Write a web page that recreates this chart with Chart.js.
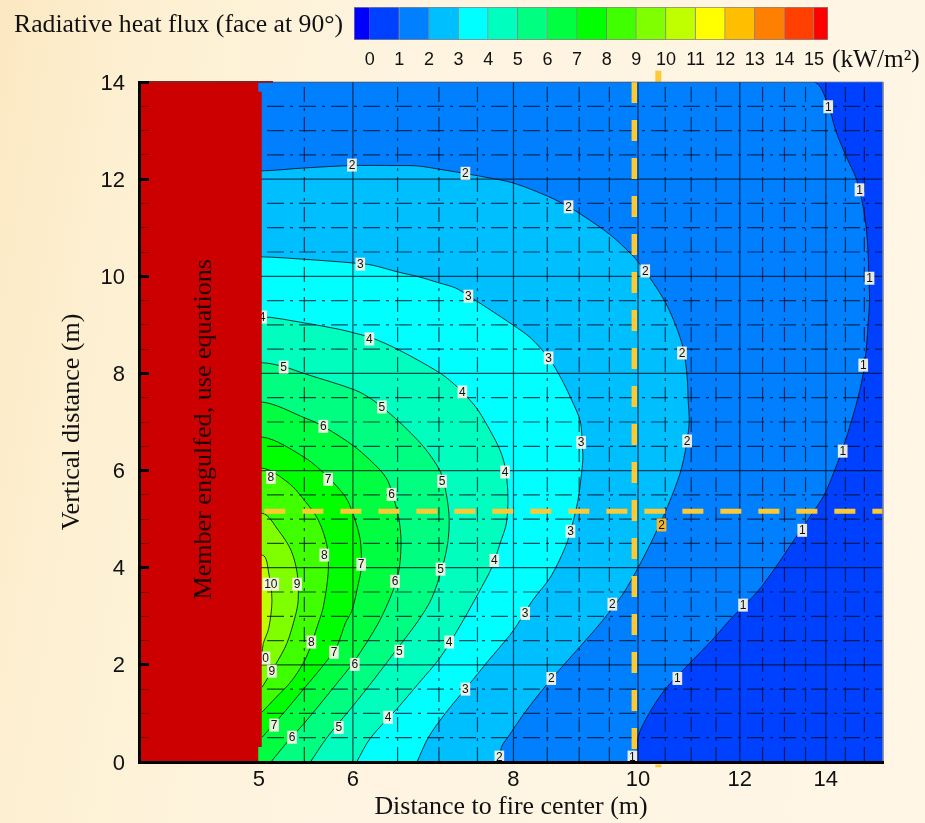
<!DOCTYPE html>
<html>
<head>
<meta charset="utf-8">
<script src="https://cdn.jsdelivr.net/npm/chart.js@4"></script>
<style>
html,body{margin:0;padding:0;width:925px;height:823px;overflow:hidden;background:linear-gradient(100deg,#fce8c2 0%,#fdf0d2 14%,#fef4e0 40%,#fff6e6 100%);}
canvas{position:absolute;left:0;top:0;}
.t{position:absolute;font-family:"Liberation Serif",serif;color:#111;white-space:nowrap;}
</style>
</head>
<body>
<canvas id="main" width="925" height="823"></canvas>
<canvas id="bar" width="925" height="75"></canvas>
<div class="t" style="left:14px;top:9px;font-size:25.7px;">Radiative heat flux (face at 90°)</div>
<div class="t" style="left:832px;top:44px;font-size:25.3px;">(kW/m²)</div>
<script>
const titleX = "Distance to fire center (m)";
const titleY = "Vertical distance (m)";
const noteText = "Member engulfed, use equations";
const xMin = 4.09, xMax = 15.51, yMin = 0, yMax = 14;
const xTickValues = [5.07, 6, 8, 10, 12, 14];
const xMajor = [6, 8, 10, 12, 14];
const xMinor = [5.5, 6.5, 7, 7.5, 8.5, 9, 9.5, 10.5, 11, 11.5, 12.5, 13, 13.5, 14.5, 15];
const yTickValues = [0,0.5,1,1.5,2,2.5,3,3.5,4,4.5,5,5.5,6,6.5,7,7.5,8,8.5,9,9.5,10,10.5,11,11.5,12,12.5,13,13.5,14];

const bandColors = ["#0000ff","#0040ff","#0080ff","#00bfff","#00ffff","#00ffbf","#00ff80","#00ff40","#00ff00","#40ff00","#80ff00","#bfff00","#ffff00","#ffbf00","#ff8000","#ff4000","#ff0000"];
const barEdges = [-0.53,0,1,2,3,4,5,6,7,8,9,10,11,12,13,14,15,15.47];

const contour1 = [[9.99,0],[10,0.51],[10.2,1],[10.5,1.5],[10.94,2],[11.41,2.5],[11.86,3],[12.38,3.5],[12.79,4],[13.17,4.5],[13.57,5],[13.96,5.5],[14.22,6],[14.45,6.5],[14.65,7],[14.83,7.5],[14.97,8],[15.05,8.5],[15.1,9],[15.14,9.5],[15.12,10],[15.1,10.5],[15.05,11],[14.95,11.5],[14.79,12],[14.5,12.5],[14.25,13],[14.04,13.57],[13.69,14]];
const contour2 = [[7.81,0],[7.83,0.31],[7.92,0.51],[8.17,1.03],[8.52,1.64],[8.96,2.3],[9.35,2.86],[9.74,3.47],[10,4],[10.22,4.48],[10.46,5.05],[10.63,5.49],[10.79,5.97],[10.9,6.49],[10.96,7],[10.94,7.45],[10.92,7.93],[10.85,8.48],[10.72,8.93],[10.5,9.47],[10.22,9.96],[10,10.3],[9.91,10.42],[9.52,10.85],[9,11.3],[8.83,11.43],[8.52,11.64],[8,11.92],[7.61,12.04],[7.21,12.15],[7.02,12.2],[6.75,12.27],[6.5,12.28],[5.99,12.28],[5.5,12.23],[5.09,12.17]];
const contour3 = [[6.73,0],[6.87,0.51],[7.08,1],[7.38,1.58],[7.65,2.09],[7.77,2.3],[8,2.71],[8.28,3.33],[8.55,3.81],[8.78,4.43],[8.88,4.84],[8.98,5.39],[9.04,5.97],[9.06,6.28],[9.05,6.49],[9.02,7],[8.88,7.45],[8.7,7.93],[8.52,8.32],[8.25,8.73],[8,8.99],[7.51,9.47],[7.38,9.6],[7.21,9.76],[6.99,9.87],[6.75,9.99],[6.5,10.09],[6.21,10.23],[6.03,10.27],[5.5,10.35],[5.09,10.4]];
const contour4 = [[6.04,0],[6.19,0.49],[6.5,1.11],[6.75,1.62],[7.02,2.16],[7.29,2.86],[7.51,3.47],[7.7,4.02],[7.81,4.5],[7.9,4.92],[7.92,5.53],[7.88,6.08],[7.81,6.42],[7.67,6.83],[7.51,7.24],[7.4,7.45],[7.25,7.7],[7.02,8],[6.52,8.48],[6.21,8.73],[6.02,8.83],[5.85,8.91],[5.5,9.04],[5.09,9.17]];
const contour5 = [[5.56,0],[5.73,0.51],[5.99,1.13],[6.21,1.65],[6.5,2.34],[6.75,2.92],[6.91,3.37],[7.04,3.99],[7.11,4.5],[7.13,4.98],[7.1,5.45],[7.02,5.97],[6.81,6.49],[6.52,7],[6.22,7.45],[6.02,7.66],[5.51,7.99],[5.3,8.14],[5.1,8.22]];
const contour6 = [[5.18,0],[5.35,0.45],[5.5,0.8],[5.79,1.52],[6.02,2.09],[6.28,2.86],[6.45,3.54],[6.52,3.99],[6.54,4.57],[6.51,5.05],[6.4,5.74],[6.3,6.01],[6.02,6.49],[5.69,6.91],[5.51,7.08],[5.1,7.41]];
const contour7 = [[5.1,0.51],[5.28,0.96],[5.5,1.52],[5.69,1.99],[5.83,2.38],[5.92,2.86],[5.99,3.12],[6.06,3.68],[6.09,3.99],[6.08,4.57],[6,5.12],[5.92,5.46],[5.73,5.88],[5.51,6.26],[5.1,6.69]];
const contour8 = [[5.1,1.03],[5.22,1.31],[5.38,1.68],[5.52,2.16],[5.64,2.86],[5.69,3.19],[5.74,3.89],[5.73,4.43],[5.64,4.98],[5.5,5.39],[5.35,5.74],[5.1,6.05]];
const contour9 = [[5.1,1.54],[5.22,1.99],[5.33,2.44],[5.41,2.99],[5.44,3.33],[5.43,3.89],[5.37,4.36],[5.25,4.77],[5.1,5.12]];
const contour10 = [[5.1,2.24],[5.11,2.44],[5.16,2.75],[5.19,3.33],[5.16,3.89],[5.1,4.26]];
const contours = [contour1,contour2,contour3,contour4,contour5,contour6,contour7,contour8,contour9,contour10];

const labels1 = [[14.06,13.49],[14.87,11.78],[15.14,9.96],[14.97,8.17],[14.43,6.4],[13.42,4.77],[12.07,3.23],[10.73,1.72],[9.9,0.1]];
const labels2 = [[5.99,12.29],[7.34,12.12],[8.83,11.43],[10.13,10.11],[10.82,8.42],[10.92,6.61],[9.55,3.25],[8.56,1.72],[7.8,0.1]];
const labels2Orange = [[10.43,4.88]];
const labels3 = [[6.08,10.25],[7.38,9.59],[8.52,8.32],[9.03,6.58],[8.86,4.75],[8.17,3.06],[7.34,1.5]];
const labels4 = [[5.1,9.16],[6.18,8.71],[7.3,7.62],[7.88,5.97],[7.73,4.15],[7.13,2.47],[6.39,0.92]];
const labels5 = [[5.3,8.13],[6.32,7.31],[7.04,5.78],[7.02,3.97],[6.52,2.28],[5.85,0.71]];
const labels6 = [[5.69,6.91],[6.43,5.51],[6.47,3.72],[6.02,2.01],[5.38,0.51]];
const labels7 = [[5.74,5.82],[6.09,4.07],[5.8,2.26],[5.21,0.76]];
const labels8 = [[5.18,5.86],[5.7,4.26],[5.57,2.47]];
const labels9 = [[5.43,3.66],[5.19,1.87]];
const labels10 = [[5.18,3.66],[5.1,2.14]];
const contourLabels = [labels1,labels2,labels3,labels4,labels5,labels6,labels7,labels8,labels9,labels10];

const redBlock = [[5.064,0],[5.064,0.31],[5.096,0.31],[5.096,13.8],[5.064,13.8],[5.064,14]];
const dashV = [[9.934,14],[9.934,0]];
const dashH = [[5.12,5.164],[15.51,5.164]];
const stubs = [[10.37,14.23],[10.37,14],[null,null],[10.37,-0.05],[10.37,-0.11]];
const notePos = {x:4.6, y:6.85};

const pts = a => a.map(p => ({x:p[0], y:p[1]}));
const closeLeft = a => a.concat([[xMin,a[a.length-1][1]],[xMin,a[0][1]]]);
const gridV = list => list.flatMap(v => [[v,yMin],[v,yMax],[null,null]]);
const gridH = list => list.flatMap(v => [[xMin,v],[xMax,v],[null,null]]);
const yMajor = yTickValues.filter(v => v % 2 === 0 && v > 0 && v < 14);
const yMinor = yTickValues.filter(v => v % 2 !== 0);

const line = (a, o) => Object.assign({type:'scatter', data:pts(a), showLine:true, pointRadius:0, borderWidth:0, tension:0, fill:false, spanGaps:false}, o);
const seq = [];
seq.push(line([[xMin,yMin],[xMax,yMin],[xMax,yMax],[xMin,yMax]], {fill:'shape', backgroundColor:bandColors[1]}));
contours.forEach((c,i) => seq.push(line(closeLeft(c), {fill:'shape', tension:0.3, backgroundColor:bandColors[i+2], borderColor:'rgba(0,10,20,0.8)', borderWidth:1})));
const gridColor = 'rgba(0,10,30,0.72)';
seq.push(line(gridV(xMajor).concat(gridH(yMajor)), {borderColor:gridColor, borderWidth:1.2}));
seq.push(line(gridV(xMinor), {borderColor:gridColor, borderWidth:1.2, borderDash:[15,6,3,6]}));
seq.push(line(gridH(yMinor), {borderColor:gridColor, borderWidth:1.2, borderDash:[17,6,3,6]}));
const flat = [];
contourLabels.forEach((l,i) => l.forEach(p => flat.push({x:p[0], y:p[1], text:String(i+1), bg:'rgba(250,246,232,0.92)'})));
labels2Orange.forEach(p => flat.push({x:p[0], y:p[1], text:'2', bg:'#f7b52c'}));
const labelIndex = seq.length;
seq.push({type:'scatter', data:flat, pointRadius:0, showLine:false});
seq.push(line(closeLeft(redBlock), {fill:'shape', backgroundColor:'#cc0000'}));
seq.push(line(dashV, {borderColor:'#ffc933', borderWidth:5.5, borderDash:[21,17], borderCapStyle:'butt'}));
seq.push(line(dashH, {borderColor:'#ffc933', borderWidth:5, borderDash:[21,17], borderCapStyle:'butt'}));
seq.push(line(stubs, {borderColor:'#ffc933', borderWidth:6, clip:false}));
seq.push(line([[5.2,yMax],[xMax,yMax],[xMax,yMin]], {borderColor:'rgba(120,130,150,0.8)', borderWidth:1, clip:false}));
seq.push(line([[xMin,yMax],[5.2,yMax]], {borderColor:'#8a1f1f', borderWidth:2, clip:false}));
seq.forEach((d,i) => { d.order = seq.length - i; });

const textPlugin = {
  id:'contourText',
  afterDatasetDraw(chart, args){
    if (args.index !== labelIndex) return;
    const c = chart.ctx;
    c.save();
    c.font = '12px "Liberation Sans"';
    c.textAlign = 'center'; c.textBaseline = 'middle';
    args.meta.data.forEach((el,i) => {
      const r = flat[i];
      const w = c.measureText(r.text).width + 3;
      c.fillStyle = r.bg;
      c.fillRect(el.x - w/2, el.y - 6.5, w, 13);
      c.fillStyle = '#111';
      c.fillText(r.text, el.x, el.y + 0.5);
    });
    c.restore();
  },
  afterDraw(chart){
    const c = chart.ctx;
    c.save();
    c.translate(chart.scales.x.getPixelForValue(notePos.x), chart.scales.y.getPixelForValue(notePos.y));
    c.rotate(-Math.PI/2);
    c.font = '26.1px "Liberation Serif"';
    c.textAlign = 'center'; c.textBaseline = 'middle';
    c.fillStyle = '#200000';
    c.fillText(noteText, 0, 0);
    c.restore();
  }
};

Chart.defaults.animation = false;
new Chart(document.getElementById('main'), {
  type:'scatter',
  data:{datasets:seq},
  plugins:[textPlugin],
  options:{
    responsive:false,
    layout:{padding:{left:0,right:42,top:82,bottom:0}},
    plugins:{legend:{display:false},tooltip:{enabled:false}},
    events:[],
    scales:{
      x:{
        type:'logarithmic', min:xMin, max:xMax, position:'bottom',
        afterBuildTicks(s){ s.ticks = xTickValues.map(v => ({value:v})); },
        afterFit(s){ s.height = 61; },
        grid:{display:false,drawTicks:false},
        border:{display:true,color:'#000',width:3,z:2},
        ticks:{autoSkip:false,maxRotation:0,padding:5,color:'#111',font:{family:'"Liberation Sans"',size:22},callback:v => String(Math.round(v))},
        title:{display:true,text:titleX,color:'#111',font:{family:'"Liberation Serif"',size:25.9},padding:{top:0,bottom:0.4}}
      },
      y:{
        type:'linear', min:yMin, max:yMax, position:'left',
        afterBuildTicks(s){ s.ticks = yTickValues.map(v => ({value:v})); },
        afterFit(s){ s.width = 139; },
        grid:{display:true,drawOnChartArea:false,drawTicks:true,tickLength:-10,z:2,
          tickColor:c => c.tick && c.tick.value % 2 === 0 ? '#000' : 'rgba(90,0,0,0.7)',
          tickWidth:c => c.tick && c.tick.value % 2 === 0 ? 3 : 1},
        border:{display:true,color:'#000',width:3,z:2},
        ticks:{autoSkip:false,padding:24,labelOffset:1.5,color:'#111',font:{family:'"Liberation Sans"',size:22},callback:v => v % 2 === 0 ? String(v) : ''},
        title:{display:true,text:titleY,color:'#111',font:{family:'"Liberation Serif"',size:26},padding:{top:57,bottom:0}}
      }
    }
  }
});

const barSets = bandColors.map((col,i) => ({data:[[barEdges[i],barEdges[i+1]]], backgroundColor:col, borderColor:'rgba(40,40,60,0.55)', borderWidth:1, barPercentage:1, categoryPercentage:1, grouped:false}));
new Chart(document.getElementById('bar'), {
  type:'bar',
  data:{labels:[''],datasets:barSets},
  options:{
    responsive:false, indexAxis:'y',
    layout:{padding:{left:354,right:97,top:7,bottom:0}},
    plugins:{legend:{display:false},tooltip:{enabled:false}},
    events:[],
    scales:{
      y:{display:false,stacked:false},
      x:{type:'linear',min:barEdges[0],max:barEdges[barEdges.length-1],position:'bottom',
        afterBuildTicks(s){ s.ticks = barEdges.slice(1,17).map(v => ({value:v})); },
        afterFit(s){ s.height = 35; },
        grid:{display:false,drawTicks:false},border:{display:false},
        ticks:{autoSkip:false,maxRotation:0,padding:9,color:'#111',font:{family:'"Liberation Sans"',size:18}}
      }
    }
  }
});
</script>
</body>
</html>
